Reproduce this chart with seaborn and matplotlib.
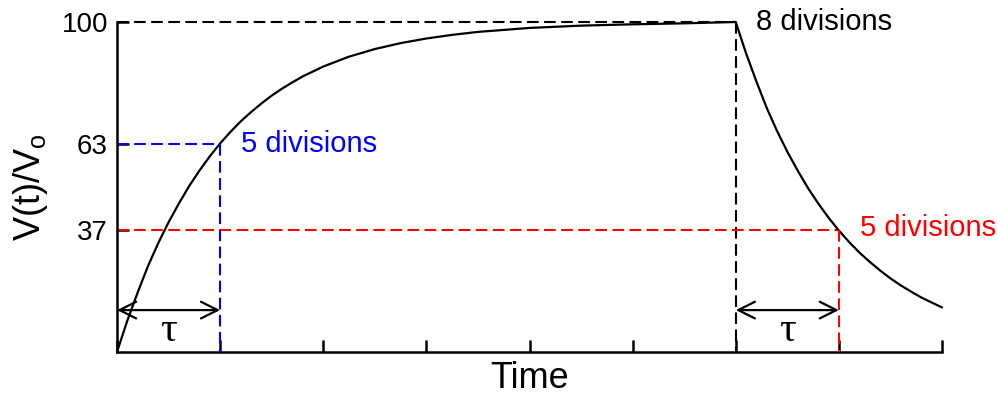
import numpy as np
import matplotlib
matplotlib.use("Agg")
import matplotlib.pyplot as plt
import seaborn as sns
import pandas as pd

# curve (time in divisions, voltage in % of Vo)
time_div = [0, 0.1, 0.2, 0.3, 0.4, 0.5, 0.6, 0.7, 0.8, 0.9, 1.0,
            1.1, 1.2, 1.3, 1.4, 1.5, 1.6, 1.7, 1.8, 1.9, 2.0,
            2.25, 2.5, 2.75, 3.0, 3.25, 3.5, 3.75, 4.0, 4.5, 5.0, 5.5, 6.0,
            6.1, 6.2, 6.3, 6.4, 6.5, 6.6, 6.7, 6.8, 6.9, 7.0,
            7.1, 7.2, 7.3, 7.4, 7.5, 7.6, 7.7, 7.8, 7.9, 8.0]
volt_pct = [0, 9.5, 18, 26, 33, 39.3, 45, 50.3, 55, 59.3, 63.2,
            66.7, 69.9, 72.7, 75.3, 77.7, 79.8, 81.7, 83.5, 85, 86.5,
            89.5, 91.8, 93.6, 95, 96.1, 97, 97.6, 98.2, 98.9, 99.3, 99.6, 100,
            90.5, 82, 74, 67, 60.7, 55, 49.7, 45, 40.7, 36.8,
            33.3, 30.1, 27.3, 24.7, 22.3, 20.2, 18.3, 16.5, 15, 13.5]

ytick_vals = [37, 63, 100]
tau_div = 1        # one division
switch_div = 6     # source switched off here
total_div = 8
arrow_level = 12.7
tau_level = 6.5

df = pd.DataFrame({"t": time_div, "v": volt_pct})

sns.set_style("ticks")
plt.rcParams["font.family"] = ["Liberation Sans", "DejaVu Sans"]
plt.rcParams.update({"text.color": "black", "axes.labelcolor": "black",
                     "xtick.color": "black", "ytick.color": "black"})

fig = plt.figure(figsize=(9.97, 3.95), dpi=100)
ax = fig.add_axes([117 / 997, 43 / 395, 825 / 997, 330 / 395])

dash = (0, (5.6, 2.6))
lw = 1.5

# guide lines
ax.plot([0, switch_div], [100, 100], color="black", lw=lw, ls=dash, zorder=2)
ax.plot([switch_div, switch_div], [100, 0], color="black", lw=lw, ls=dash, zorder=2)
ax.plot([0, tau_div], [63, 63], color="#0000ff", lw=lw, ls=dash, zorder=2)
ax.plot([tau_div, tau_div], [63, 0], color="#0000ff", lw=lw, ls=dash, zorder=4)
ax.plot([0, switch_div + tau_div], [37, 37], color="#ff0000", lw=lw, ls=dash, zorder=2)
ax.plot([switch_div + tau_div, switch_div + tau_div], [37, 0], color="#ff0000", lw=lw,
        ls=dash, zorder=4)

sns.lineplot(data=df, x="t", y="v", ax=ax, color="black", lw=1.6, sort=False,
             estimator=None, zorder=3)
for ln in ax.lines:
    ln.set_clip_on(False)

# tau arrows
for start in [0, switch_div]:
    ax.annotate("", xy=(start + tau_div, arrow_level), xytext=(start, arrow_level),
                arrowprops=dict(arrowstyle="<->", lw=1.6, color="black",
                                mutation_scale=30, shrinkA=0, shrinkB=0))
    ax.text(start + tau_div / 2, tau_level, "τ", fontsize=30, ha="center", va="center",
            family=["Liberation Serif", "DejaVu Serif"])

ax.text(switch_div + 0.2, 100, "8 divisions", fontsize=21, va="center", color="black")
ax.text(tau_div + 0.2, 63, "5 divisions", fontsize=21, va="center", color="#0000ff")
ax.text(switch_div + tau_div + 0.2, 37.5, "5 divisions", fontsize=21, va="center",
        color="#ff0000")

ax.set_xlim(0, total_div)
ax.set_ylim(0, 100)
ax.set_xticks(range(total_div + 1))
ax.set_xticklabels([])
ax.set_yticks(ytick_vals)
ax.set_yticklabels([str(v) for v in ytick_vals], fontsize=20)
ax.tick_params(direction="in", length=8.5, width=1.8, pad=6.5, color="black")
ax.set_xlabel("Time", fontsize=26, labelpad=0)
ax.set_ylabel(r"V(t)/V$_\mathregular{o}$", fontsize=26, labelpad=8)

sns.despine(ax=ax)
for s in ["left", "bottom"]:
    ax.spines[s].set_linewidth(1.8)
    ax.spines[s].set_color("black")

fig.savefig("out.png", dpi=100)
